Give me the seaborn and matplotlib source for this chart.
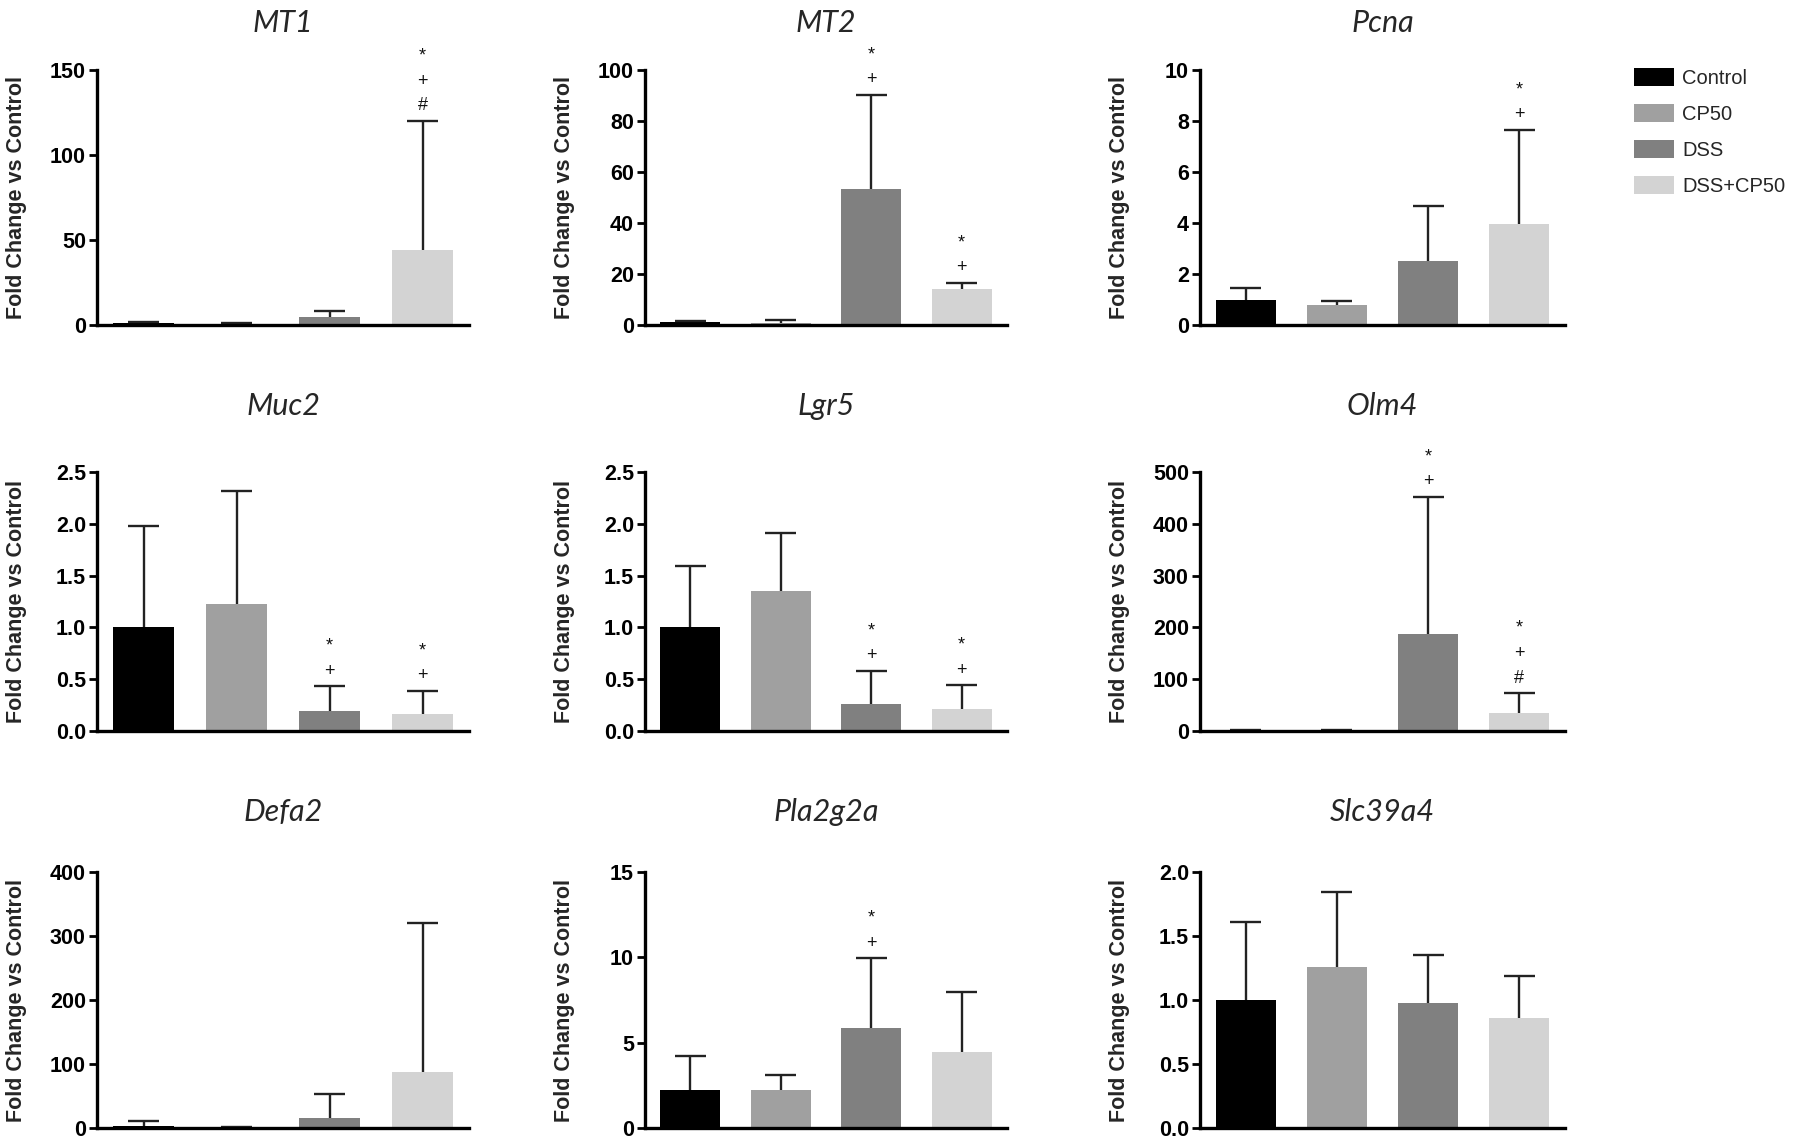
import numpy as np
import pandas as pd
import seaborn as sns
import matplotlib.pyplot as plt
from matplotlib.patches import Patch
from matplotlib.ticker import FormatStrFormatter

sns.set_style("ticks")
plt.rcParams['font.family'] = ['Liberation Sans', 'DejaVu Sans']

# groups and colours
groups = ['Control', 'CP50', 'DSS', 'DSS+CP50']
colors = ['#000000', '#a0a0a0', '#808080', '#d3d3d3']

# gene panels (means, upper error limit = mean + SD, significance marks bottom->top)
genes = ['MT1', 'MT2', 'Pcna', 'Muc2', 'Lgr5', 'Olm4', 'Defa2', 'Pla2g2a', 'Slc39a4']

mt1_mean = [1.0, 0.6, 4.5, 44.0]
mt1_top = [1.6, 1.1, 8.5, 120.0]
mt1_marks = ['', '', '', '#+*']

mt2_mean = [1.0, 0.6, 53.5, 14.0]
mt2_top = [1.5, 1.8, 90.2, 16.5]
mt2_marks = ['', '', '+*', '+*']

pcna_mean = [1.0, 0.8, 2.5, 3.95]
pcna_top = [1.45, 0.95, 4.65, 7.65]
pcna_marks = ['', '', '', '+*']

muc2_mean = [1.0, 1.23, 0.19, 0.16]
muc2_top = [1.98, 2.32, 0.43, 0.39]
muc2_marks = ['', '', '+*', '+*']

lgr5_mean = [1.0, 1.35, 0.26, 0.21]
lgr5_top = [1.59, 1.91, 0.58, 0.44]
lgr5_marks = ['', '', '+*', '+*']

olm4_mean = [1.0, 1.0, 188.0, 35.0]
olm4_top = [1.5, 1.5, 452.0, 73.0]
olm4_marks = ['', '', '+*', '#+*']

defa2_mean = [3.0, 1.0, 15.0, 88.0]
defa2_top = [11.0, 1.5, 53.0, 320.0]
defa2_marks = ['', '', '', '']

pla_mean = [2.25, 2.2, 5.85, 4.45]
pla_top = [4.2, 3.1, 9.95, 7.95]
pla_marks = ['', '', '+*', '']

slc_mean = [1.0, 1.26, 0.98, 0.86]
slc_top = [1.61, 1.84, 1.35, 1.19]
slc_marks = ['', '', '', '']

means = [mt1_mean, mt2_mean, pcna_mean, muc2_mean, lgr5_mean, olm4_mean, defa2_mean, pla_mean, slc_mean]
tops = [mt1_top, mt2_top, pcna_top, muc2_top, lgr5_top, olm4_top, defa2_top, pla_top, slc_top]
marks = [mt1_marks, mt2_marks, pcna_marks, muc2_marks, lgr5_marks, olm4_marks, defa2_marks, pla_marks, slc_marks]
yticks = [[0, 50, 100, 150], [0, 20, 40, 60, 80, 100], [0, 2, 4, 6, 8, 10],
          [0, 0.5, 1.0, 1.5, 2.0, 2.5], [0, 0.5, 1.0, 1.5, 2.0, 2.5], [0, 100, 200, 300, 400, 500],
          [0, 100, 200, 300, 400], [0, 5, 10, 15], [0, 0.5, 1.0, 1.5, 2.0]]
decimal = [False, False, False, True, True, False, False, False, True]

W, H = 1800, 1138
fig = plt.figure(figsize=(W / 100, H / 100), dpi=100)

# panel boxes in pixels: column (left, width), row (top, bottom), title pad per row
cols = [(97, 372), (645, 362), (1200, 365)]
rows = [(70, 325), (472, 731), (872, 1128)]
title_pad = [27, 41, 37]

for i, gene in enumerate(genes):
    left, width = cols[i % 3]
    top, bottom = rows[i // 3]
    ax = fig.add_axes([left / W, 1 - bottom / H, width / W, (bottom - top) / H])

    df = pd.DataFrame({'group': groups, 'value': means[i]})
    sns.barplot(data=df, x='group', y='value', hue='group', palette=colors,
                order=groups, hue_order=groups, width=0.66, saturation=1,
                legend=False, ax=ax, edgecolor='none')

    # upper-only error bars with a cap
    xs = np.arange(4)
    ax.vlines(xs, means[i], tops[i], color='#222222', linewidth=1.7, zorder=1)
    ax.hlines(tops[i], xs - 0.17, xs + 0.17, color='#222222', linewidth=1.7, zorder=1)

    # significance symbols stacked above the error bar
    for j, s in enumerate(marks[i]):
        for k, ch in enumerate(s):
            ax.annotate(ch, (j, tops[i][j]), xytext=(0, 15 + 25 * k),
                        textcoords='offset pixels', ha='center', va='center',
                        fontsize=13, color='#111111')

    ax.set_xlim(-0.5, 3.5)
    ax.set_ylim(0, yticks[i][-1])
    ax.set_yticks(yticks[i])
    if decimal[i]:
        ax.yaxis.set_major_formatter(FormatStrFormatter('%.1f'))
    ax.set_xticks([])
    ax.set_xlabel('')
    ax.set_ylabel('Fold Change vs Control', fontsize=15.5, fontweight='bold')
    ax.yaxis.set_label_coords(-70 / width, 0.5)
    for lab in ax.get_yticklabels():
        lab.set_fontweight('bold')
    ax.tick_params(axis='y', labelsize=15.5, width=2, length=6, pad=2,
                   color='black', labelcolor='black')
    for sp in ['left', 'bottom']:
        ax.spines[sp].set_linewidth(2.4)
        ax.spines[sp].set_color('black')
    sns.despine(ax=ax)
    ax.set_title(gene, fontsize=22, fontstyle='italic', family=['Lato', 'DejaVu Sans'],
                 pad=title_pad[i // 3])

handles = [Patch(facecolor=c, edgecolor='none') for c in colors]
fig.legend(handles, groups, loc='upper left', bbox_to_anchor=(1634 / W, 1 - 68 / H),
           frameon=False, fontsize=14.5, handlelength=2.0, handleheight=1.0,
           labelspacing=0.8, handletextpad=0.4, borderaxespad=0, borderpad=0)

fig.savefig('out.png', dpi=100)
